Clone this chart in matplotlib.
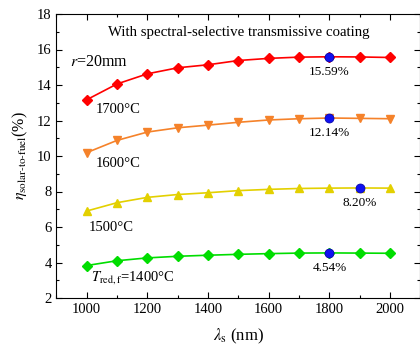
import matplotlib
matplotlib.use("Agg")
import matplotlib.pyplot as plt
from matplotlib.ticker import MultipleLocator

plt.rcParams['font.family'] = ['Liberation Serif', 'DejaVu Serif']
plt.rcParams['mathtext.fontset'] = 'stix'

# ---------- data ----------
wavelength = [1000, 1100, 1200, 1300, 1400, 1500, 1600, 1700, 1800, 1900, 2000]
eta_1700 = [13.17, 14.06, 14.63, 14.97, 15.14, 15.38, 15.50, 15.57, 15.59, 15.58, 15.55]
eta_1600 = [10.19, 10.88, 11.35, 11.59, 11.74, 11.90, 12.03, 12.10, 12.14, 12.12, 12.10]
eta_1500 = [6.90, 7.37, 7.67, 7.83, 7.93, 8.05, 8.12, 8.17, 8.19, 8.20, 8.19]
eta_1400 = [3.83, 4.10, 4.26, 4.35, 4.41, 4.46, 4.50, 4.53, 4.54, 4.53, 4.52]

# optimum points (blue)
opt_x = [1800, 1800, 1900, 1800]
opt_y = [15.59, 12.14, 8.20, 4.54]
opt_text = ["15.59%", "12.14%", "8.20%", "4.54%"]

fig = plt.figure(figsize=(4.2, 3.49), dpi=100)
ax = fig.add_axes([56.4 / 420, 51 / 349, 364 / 420, 284 / 349])

ax.plot(wavelength, eta_1700, color="#FF0000", lw=1.2, marker="D", ms=4.8)
ax.plot(wavelength, eta_1600, color="#F5822A", lw=1.2, marker="v", ms=5.5)
ax.plot(wavelength, eta_1500, color="#E3D000", lw=1.2, marker="^", ms=5.5)
ax.plot(wavelength, eta_1400, color="#00DD00", lw=1.2, marker="D", ms=4.8)

ax.plot(opt_x, opt_y, ls="none", marker="o", ms=6.5, color="#1010F0",
        markeredgecolor="#0000A0", markeredgewidth=0.5, zorder=5)
for x, y, t in zip(opt_x, opt_y, opt_text):
    ax.text(x, y - 0.5, t, ha="center", va="top", fontsize=9.5)

ax.text(1500, 16.95, "With spectral-selective transmissive coating",
        ha="center", va="center", fontsize=10.7)
ax.text(945, 15.3, "$r$=20mm", ha="left", va="center", fontsize=11.5)
ax.text(1030, 12.6, "1700°C", ha="left", va="center", fontsize=10.5)
ax.text(1030, 9.55, "1600°C", ha="left", va="center", fontsize=10.5)
ax.text(1005, 5.95, "1500°C", ha="left", va="center", fontsize=10.5)
ax.text(1015, 3.15, "$T_{\\mathrm{red,f}}$=1400°C", ha="left", va="center", fontsize=10.5)

ax.set_xlim(900, 2100)
ax.set_ylim(2, 18)
ax.xaxis.set_major_locator(MultipleLocator(200))
ax.xaxis.set_minor_locator(MultipleLocator(100))
ax.yaxis.set_major_locator(MultipleLocator(2))
ax.yaxis.set_minor_locator(MultipleLocator(1))
ax.tick_params(which="both", direction="in", top=True, right=True, labelsize=10.5)
ax.tick_params(which="major", length=4, width=0.8)
ax.tick_params(which="minor", length=2.5, width=0.8)

ax.set_xlabel("$\\lambda_{\\mathrm{s}}$ (nm)", fontsize=12, labelpad=8)
ax.set_ylabel("$\\eta_{\\mathrm{solar\\text{-}to\\text{-}fuel}}$(%)", fontsize=11.5, labelpad=5)

fig.savefig("out.png", dpi=100)
